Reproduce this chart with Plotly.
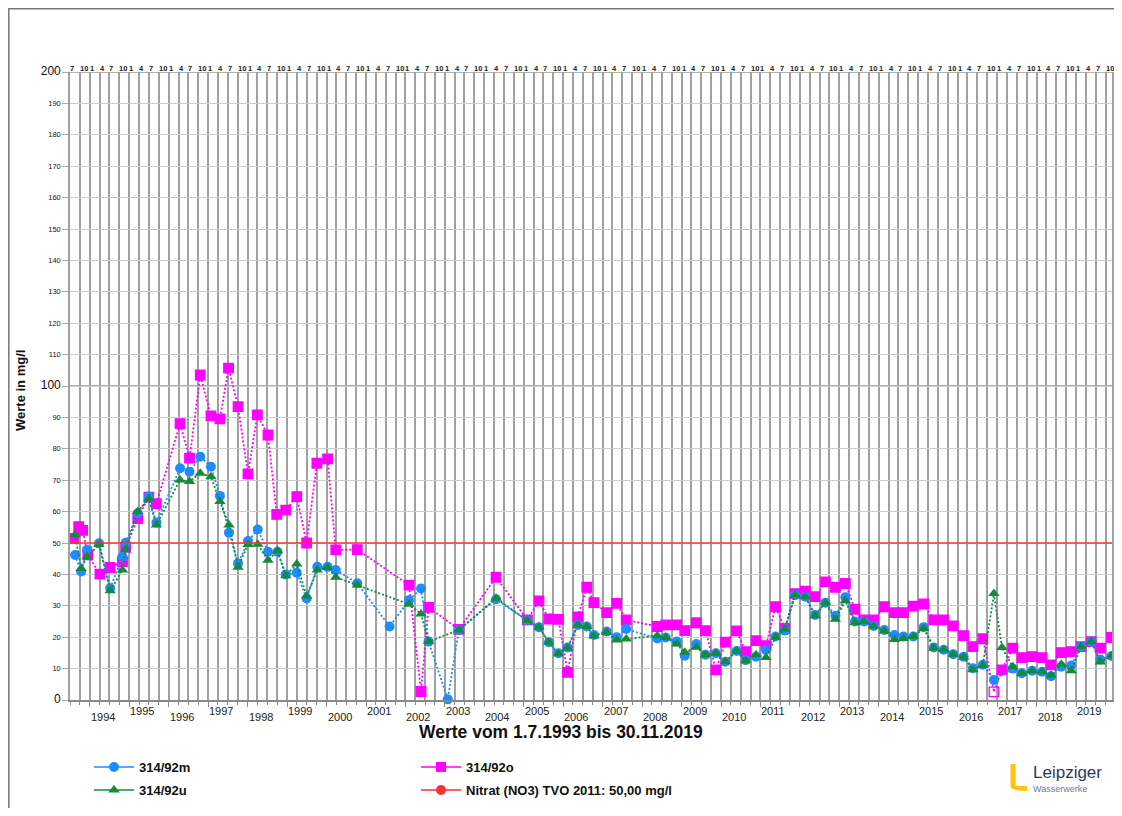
import plotly.graph_objects as go
import pandas as pd

# ---------------- data ----------------
period_start = "1993-07-01"
period_end = "2019-11-30"
nitrate_limit = 50.0

# 314/92m (blue circles)
m_dates = ["1993-08-17", "1993-10-12", "1993-12-06", "1994-03-27", "1994-07-08", "1994-10-30", "1994-11-28",
           "1995-03-20", "1995-07-01", "1995-09-09", "1996-04-15", "1996-07-12", "1996-10-19", "1997-01-26",
           "1997-04-19", "1997-07-12", "1997-10-04", "1998-01-04", "1998-04-04", "1998-07-08", "1998-10-04",
           "1998-12-20", "1999-04-01", "1999-07-01", "1999-10-08", "2000-01-11", "2000-03-27", "2000-10-12",
           "2001-08-07", "2002-02-03", "2002-05-25", "2002-08-03", "2003-01-28", "2003-05-10", "2004-04-19",
           "2005-02-03", "2005-05-21", "2005-08-21", "2005-11-17", "2006-02-10", "2006-05-17", "2006-08-07",
           "2006-10-12", "2007-02-07", "2007-05-10", "2007-08-07", "2008-05-21", "2008-08-07", "2008-11-17",
           "2009-01-30", "2009-05-17", "2009-08-10", "2009-11-14", "2010-02-10", "2010-05-25", "2010-08-17",
           "2010-11-21", "2011-02-21", "2011-05-21", "2011-08-14", "2011-11-17", "2012-02-21", "2012-05-21",
           "2012-08-25", "2012-11-25", "2013-02-25", "2013-05-25", "2013-08-17", "2013-11-14", "2014-02-21",
           "2014-05-25", "2014-08-17", "2014-11-17", "2015-02-21", "2015-05-25", "2015-08-25", "2015-11-21",
           "2016-02-25", "2016-05-21", "2016-08-21", "2016-12-02", "2017-05-25", "2017-08-17", "2017-11-21",
           "2018-02-21", "2018-05-14", "2018-08-17", "2018-11-17", "2019-02-17", "2019-05-21", "2019-08-14",
           "2019-11-25"]
m_values = [46.2, 40.9, 47.8, 49.9, 35.6, 45.6, 50.1,
            59.5, 64.8, 56.5, 73.8, 72.7, 77.5, 74.3,
            65.0, 53.3, 43.5, 50.6, 54.3, 47.2, 47.2,
            40.0, 40.5, 32.3, 42.4, 42.4, 41.4, 37.2,
            23.4, 31.8, 35.5, 18.6, 0.2, 22.3, 32.1,
            25.3, 23.2, 18.4, 14.9, 16.7, 23.9, 23.4,
            20.7, 21.8, 20.0, 22.6, 19.6, 19.9, 18.6,
            14.1, 17.8, 14.4, 14.9, 12.2, 15.6, 12.7,
            13.8, 15.9, 20.2, 22.1, 33.4, 32.9, 27.1,
            31.0, 26.8, 32.7, 25.0, 25.0, 23.6, 22.3,
            20.7, 20.2, 20.2, 23.2, 16.7, 16.0, 14.6,
            13.8, 10.1, 11.2, 6.4, 10.0, 8.5, 9.3,
            9.0, 7.6, 10.6, 11.0, 17.0, 18.6, 12.9,
            14.0]

# 314/92u (green triangles)
u_dates = ["1993-08-17", "1993-10-12", "1993-12-06", "1994-03-27", "1994-07-08", "1994-10-30", "1994-11-28",
           "1995-03-20", "1995-07-01", "1995-09-09", "1996-04-15", "1996-07-12", "1996-10-19", "1997-01-26",
           "1997-04-19", "1997-07-12", "1997-10-04", "1998-01-04", "1998-04-04", "1998-07-08", "1998-10-04",
           "1998-12-20", "1999-04-01", "1999-07-01", "1999-10-08", "2000-01-11", "2000-03-27", "2000-10-12",
           "2002-02-03", "2002-05-25", "2002-08-03", "2003-05-10", "2004-04-19",
           "2005-02-03", "2005-05-21", "2005-08-21", "2005-11-17", "2006-02-10", "2006-05-17", "2006-08-07",
           "2006-10-12", "2007-02-07", "2007-05-10", "2007-08-07", "2008-05-21", "2008-08-07", "2008-11-17",
           "2009-01-30", "2009-05-17", "2009-08-10", "2009-11-14", "2010-02-10", "2010-05-25", "2010-08-17",
           "2010-11-21", "2011-02-21", "2011-05-21", "2011-08-14", "2011-11-17", "2012-02-21", "2012-05-21",
           "2012-08-25", "2012-11-25", "2013-02-25", "2013-05-25", "2013-08-17", "2013-11-14", "2014-02-21",
           "2014-05-25", "2014-08-17", "2014-11-17", "2015-02-21", "2015-05-25", "2015-08-25", "2015-11-21",
           "2016-02-25", "2016-05-21", "2016-08-21", "2016-12-02", "2017-02-14", "2017-05-25", "2017-08-17",
           "2017-11-21", "2018-02-21", "2018-05-14", "2018-08-17", "2018-11-17", "2019-02-17", "2019-05-21",
           "2019-08-14", "2019-11-25"]
u_values = [52.6, 41.9, 45.6, 49.5, 34.8, 41.4, 48.0,
            60.0, 64.1, 55.7, 70.1, 69.6, 72.2, 71.1,
            63.2, 55.7, 42.3, 49.5, 49.6, 44.5, 47.5,
            39.6, 43.3, 33.1, 41.4, 42.2, 39.1, 36.6,
            30.5, 27.4, 18.6, 22.3, 32.4,
            25.3, 23.2, 18.4, 14.7, 16.6, 23.9, 23.4,
            20.4, 21.6, 19.1, 19.4, 20.5, 19.9, 17.8,
            15.2, 16.8, 14.4, 14.9, 12.2, 15.6, 12.5,
            14.4, 13.5, 20.0, 22.5, 33.4, 32.9, 26.8,
            31.0, 25.7, 31.6, 24.6, 25.0, 23.6, 22.0,
            19.3, 19.6, 20.2, 22.8, 16.5, 16.0, 14.6,
            13.6, 9.6, 11.0, 33.9, 16.7, 10.6, 8.5,
            9.3, 9.0, 7.9, 11.4, 9.3, 17.0, 18.6,
            12.1, 14.0]

# 314/92o (magenta squares)
o_dates = ["1993-08-03", "1993-09-20", "1993-10-26", "1993-12-13", "1994-04-04", "1994-07-08", "1994-10-30",
           "1994-11-28", "1995-03-20", "1995-07-01", "1995-09-09", "1996-04-15", "1996-07-12", "1996-10-19",
           "1997-01-26", "1997-04-19", "1997-07-08", "1997-10-04", "1998-01-04", "1998-04-01", "1998-07-08",
           "1998-09-27", "1998-12-20", "1999-04-01", "1999-07-01", "1999-10-04", "2000-01-11", "2000-03-27",
           "2000-10-12", "2002-02-03", "2002-05-25", "2002-08-03", "2003-05-10", "2004-04-19", "2005-02-03",
           "2005-05-21", "2005-08-21", "2005-11-17", "2006-02-10", "2006-05-17", "2006-08-07", "2006-10-12",
           "2007-02-07", "2007-05-10", "2007-08-07", "2008-05-21", "2008-08-07", "2008-11-17", "2009-01-30",
           "2009-05-17", "2009-08-10", "2009-11-14", "2010-02-10", "2010-05-25", "2010-08-17", "2010-11-21",
           "2011-02-21", "2011-05-21", "2011-08-14", "2011-11-17", "2012-02-21", "2012-05-21", "2012-08-25",
           "2012-11-25", "2013-02-25", "2013-05-25", "2013-08-17", "2013-11-14", "2014-02-21", "2014-05-25",
           "2014-08-17", "2014-11-17", "2015-02-21", "2015-05-25", "2015-08-25", "2015-11-21", "2016-02-25",
           "2016-05-21", "2016-08-21", "2016-12-02", "2017-02-14", "2017-05-25", "2017-08-17", "2017-11-21",
           "2018-02-21", "2018-05-14", "2018-08-17", "2018-11-17", "2019-02-17", "2019-05-21", "2019-08-14",
           "2019-11-25"]
o_values = [51.5, 55.2, 54.0, 46.2, 40.1, 42.2, 44.1,
            48.6, 57.8, 64.6, 62.5, 88.0, 77.0, 103.5,
            90.5, 89.5, 105.7, 93.4, 72.0, 90.8, 84.4,
            59.1, 60.5, 64.8, 50.0, 75.4, 76.8, 47.8,
            47.9, 36.6, 2.7, 29.5, 22.5, 39.1, 25.5,
            31.6, 25.8, 25.7, 8.8, 26.5, 35.9, 31.0,
            27.8, 30.8, 25.5, 23.4, 23.9, 23.9, 22.1,
            24.6, 22.1, 9.6, 18.4, 22.0, 15.4, 18.9,
            17.3, 29.7, 22.8, 33.9, 34.7, 32.9, 37.6,
            35.9, 37.1, 28.9, 25.5, 25.5, 29.7, 27.8,
            27.8, 29.9, 30.6, 25.5, 25.5, 23.6, 20.5,
            17.0, 19.5, 2.6, 9.6, 16.5, 13.5, 13.8,
            13.5, 11.2, 15.1, 15.4, 17.0, 18.6, 16.5,
            19.9]
# samples drawn as open square in the reference
o_open_dates = ["2016-12-02"]

y_tick_values = list(range(0, 201, 10))
year_labels = list(range(1994, 2020))

# ---------------- styling ----------------
# the page adds an 8px body margin; screen coordinates X,Y map to figure X-8, Y-8
W, H = 1106, 800
ML, MR, MT, MB = 62, 2, 64, 108
PLOT_L, PLOT_R, PLOT_T, PLOT_B = 70, 1112, 72, 700  # screen pixels
FONT = "Liberation Sans, Arial, Helvetica, sans-serif"
BLUE = "#1e8cff"
MAG = "#ff00ff"
GREEN = "#138a3c"
RED = "#ff3030"


def px(x):
    return (x - PLOT_L) / (PLOT_R - PLOT_L)


def py(y):
    return (PLOT_B - y) / (PLOT_B - PLOT_T)


fig = go.Figure()

o_symbols = ["square-open" if d in o_open_dates else "square" for d in o_dates]

dot = "2px,2px"
fig.add_trace(go.Scatter(x=o_dates, y=o_values, mode="lines+markers", showlegend=False,
                         line=dict(color=MAG, width=1.8, dash=dot), cliponaxis=False,
                         marker=dict(symbol=o_symbols, size=9.5, color=MAG, line=dict(color=MAG, width=1.3))))
fig.add_trace(go.Scatter(x=m_dates, y=m_values, mode="lines+markers", showlegend=False,
                         line=dict(color=BLUE, width=1.8, dash=dot), cliponaxis=False,
                         marker=dict(symbol="circle", size=10, color=BLUE)))
fig.add_trace(go.Scatter(x=u_dates, y=u_values, mode="lines+markers", showlegend=False,
                         line=dict(color=GREEN, width=1.8, dash=dot), cliponaxis=False,
                         marker=dict(symbol="triangle-up", size=10, color=GREEN)))
fig.add_trace(go.Scatter(x=[period_start, period_end], y=[nitrate_limit, nitrate_limit], mode="lines",
                         showlegend=False, line=dict(color=RED, width=1.5)))

# legend entries
legend_specs = [
    ("314/92m", BLUE, "circle", "legend"),
    ("314/92u", GREEN, "triangle-up", "legend2"),
    ("314/92o", MAG, "square", "legend3"),
    ("Nitrat (NO3) TVO 2011: 50,00 mg/l", RED, "circle", "legend4"),
]
for name, col, sym, lg in legend_specs:
    fig.add_trace(go.Scatter(x=[None], y=[None], mode="lines+markers", name="<b>" + name + "</b>",
                             legend=lg, line=dict(color=col, width=1.5),
                             marker=dict(symbol=sym, size=10, color=col)))

legend_pos = {"legend": (89, 767), "legend2": (89, 790), "legend3": (416, 767), "legend4": (416, 790)}
legend_layout = {}
for key, (lx, ly) in legend_pos.items():
    legend_layout[key] = dict(x=px(lx), y=py(ly), xanchor="left", yanchor="middle",
                              bgcolor="rgba(0,0,0,0)", itemwidth=40,
                              font=dict(family=FONT, size=13, color="#111"))

# y tick labels: 0/100/200 larger
y_tick_text = []
for v in y_tick_values:
    if v % 100 == 0:
        y_tick_text.append('<span style="font-size:12px">%d</span>' % v)
    else:
        y_tick_text.append(str(v))

annotations = []
# month markers along the top
quarters = pd.date_range(period_start, period_end, freq="QS")
for q in quarters:
    annotations.append(dict(x=q.strftime("%Y-%m-%d"), y=1, xref="x", yref="paper", text="<b>%d</b>" % q.month,
                            showarrow=False, xanchor="left", yanchor="bottom", xshift=-2, yshift=-3,
                            font=dict(family=FONT, size=7.5, color="#222")))
# year labels (alternating heights)
for yr in year_labels:
    yy = py(717) if yr % 2 == 0 else py(711)
    annotations.append(dict(x="%d-05-01" % yr, y=yy, xref="x", yref="paper", text=str(yr),
                            showarrow=False, xanchor="center", yanchor="middle",
                            font=dict(family=FONT, size=11, color="#222")))
annotations.append(dict(x=px(561), y=py(732), xref="paper", yref="paper",
                        text="<b>Werte vom 1.7.1993 bis 30.11.2019</b>", showarrow=False,
                        xanchor="center", yanchor="middle", font=dict(family=FONT, size=17.5, color="#111")))
annotations.append(dict(x=px(20), y=py(391), xref="paper", yref="paper", text="<b>Werte in mg/l</b>",
                        textangle=-90, showarrow=False, xanchor="center", yanchor="middle",
                        font=dict(family=FONT, size=13, color="#111")))
# logo text
annotations.append(dict(x=px(1031), y=py(772), xref="paper", yref="paper", text="Leipziger",
                        showarrow=False, xanchor="left", yanchor="middle",
                        font=dict(family=FONT, size=17, color="#1f3c66")))
annotations.append(dict(x=px(1031), y=py(789), xref="paper", yref="paper", text="Wasserwerke",
                        showarrow=False, xanchor="left", yanchor="middle",
                        font=dict(family=FONT, size=9, color="#5f7ea3")))

shapes = []
# darker reference gridlines at 100 and 200
for v in (100, 200):
    shapes.append(dict(type="line", xref="x", yref="y", x0=period_start, x1=period_end, y0=v, y1=v,
                       line=dict(color="#999999", width=1.3), layer="below"))
# outer frame
shapes.append(dict(type="rect", xref="paper", yref="paper", x0=px(8.8), x1=px(1140), y0=py(8.8), y1=py(840),
                   line=dict(color="#777777", width=1.5), fillcolor="rgba(0,0,0,0)", layer="above"))
# logo "L"
lpath = "M %f,%f L %f,%f L %f,%f L %f,%f L %f,%f Q %f,%f %f,%f Z" % (
    px(1010.5), py(764), px(1015.5), py(764), px(1015.5), py(786), px(1027), py(786),
    px(1027), py(791), px(1010.5), py(791), px(1010.5), py(786))
shapes.append(dict(type="path", xref="paper", yref="paper", path=lpath,
                   fillcolor="#ffc20e", line=dict(width=0), layer="above"))

fig.update_layout(
    width=W, height=H,
    margin=dict(l=ML, r=MR, t=MT, b=MB, autoexpand=False),
    paper_bgcolor="white", plot_bgcolor="white",
    font=dict(family=FONT, color="#222"),
    xaxis=dict(type="date", range=[period_start, period_end],
               tick0="1994-01-01", dtick="M12", ticks="outside", ticklen=5, tickcolor="#8a8a8a",
               tickwidth=1.2, showticklabels=False,
               showgrid=True, gridcolor="#a0a0a0", gridwidth=1.5,
               minor=dict(tick0=period_start, dtick="M3", ticks="outside", ticklen=2.5, tickcolor="#8a8a8a",
                          showgrid=True, gridcolor="#a0a0a0", gridwidth=1.5),
               showline=True, linecolor="#888888", linewidth=2, zeroline=False),
    yaxis=dict(range=[0, 200], tickmode="array", tickvals=y_tick_values, ticktext=y_tick_text,
               tickfont=dict(family=FONT, size=7.5, color="#111"),
               ticks="outside", ticklen=6, tickcolor="#aaaaaa", tickwidth=1,
               showgrid=True, gridcolor="#cccccc", gridwidth=1.2, zeroline=False,
               showline=True, linecolor="#a0a0a0", linewidth=1.5, mirror=True),
    annotations=annotations,
    shapes=shapes,
    **legend_layout,
)

fig.write_html("out.html", config={"displayModeBar": False})
